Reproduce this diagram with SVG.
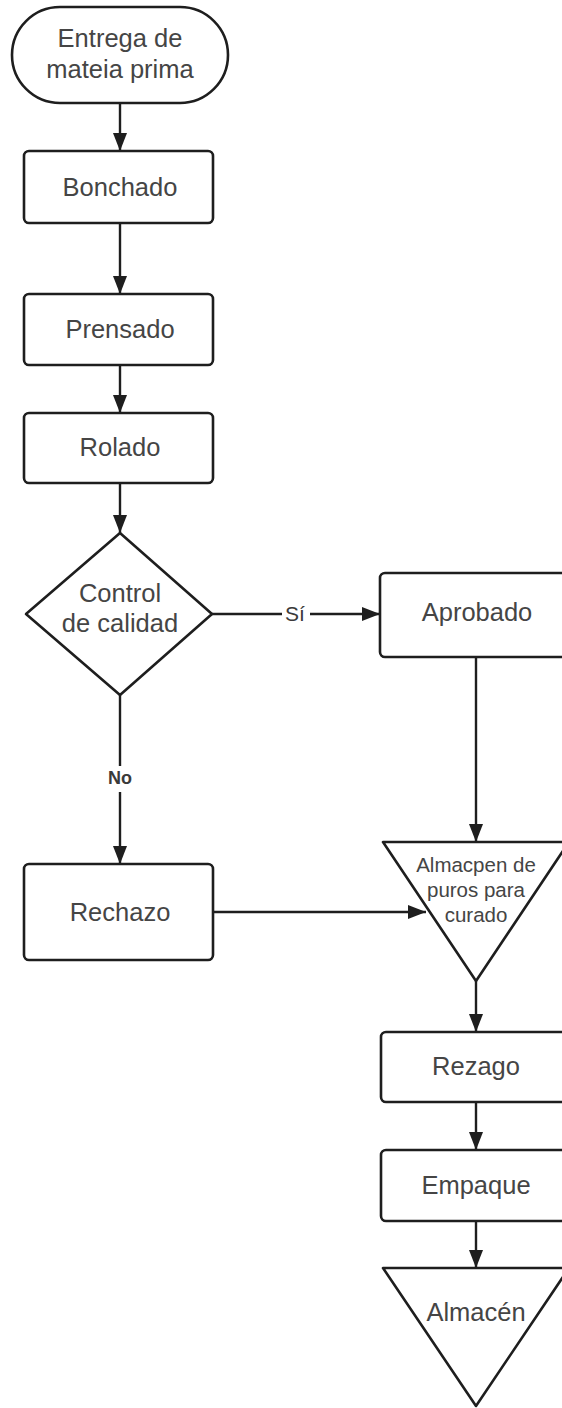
<svg xmlns="http://www.w3.org/2000/svg" width="562" height="1408" viewBox="0 0 562 1408">
<defs>
<marker id="arr" markerUnits="userSpaceOnUse" markerWidth="20" markerHeight="16" refX="18" refY="8" orient="auto">
<path d="M0,1 L18,8 L0,15 Z" fill="#1e1e1e"/>
</marker>
<style>
.sh{fill:#ffffff;stroke:#1e1e1e;stroke-width:2.6;stroke-linejoin:round}
.t{font-family:"Liberation Sans",Arial,sans-serif;font-size:25.5px;fill:#454545;text-anchor:middle}
.ts{font-family:"Liberation Sans",Arial,sans-serif;font-size:20.5px;fill:#454545;text-anchor:middle}
.lb{font-family:"Liberation Sans",Arial,sans-serif;fill:#3a3a3a;text-anchor:middle}
.c{fill:none;stroke:#1e1e1e;stroke-width:2.4}
</style>
</defs>
<rect width="562" height="1408" fill="#ffffff"/>
<g id="connectors">
<path class="c" d="M120,103 L120,151" marker-end="url(#arr)"/>
<path class="c" d="M120,223 L120,294" marker-end="url(#arr)"/>
<path class="c" d="M120,365 L120,413" marker-end="url(#arr)"/>
<path class="c" d="M120,483 L120,533" marker-end="url(#arr)"/>
<path class="c" d="M212,614 L380,614" marker-end="url(#arr)"/>
<rect x="282" y="600" width="28" height="26" fill="#ffffff"/>
<text class="lb" x="295" y="621" font-size="21">Sí</text>
<path class="c" d="M120,695 L120,864" marker-end="url(#arr)"/>
<rect x="102" y="766" width="36" height="26" fill="#ffffff"/>
<text class="lb" x="120" y="784" font-size="18" font-weight="bold">No</text>
<path class="c" d="M476,657 L476,842" marker-end="url(#arr)"/>
<path class="c" d="M213,912 L426,912" marker-end="url(#arr)"/>
<path class="c" d="M476,981 L476,1032" marker-end="url(#arr)"/>
<path class="c" d="M476,1102 L476,1150" marker-end="url(#arr)"/>
<path class="c" d="M476,1221 L476,1268" marker-end="url(#arr)"/>
</g>
<g id="inicio">
<rect class="sh" x="12" y="7" width="216" height="96" rx="48" ry="48"/>
<text class="t" x="120" y="47">Entrega de</text>
<text class="t" x="120" y="78">mateia prima</text>
</g>
<g id="bonchado">
<rect class="sh" x="24" y="151" width="189" height="72" rx="5"/>
<text class="t" x="120" y="196">Bonchado</text>
</g>
<g id="prensado">
<rect class="sh" x="24" y="294" width="189" height="71" rx="5"/>
<text class="t" x="120" y="338">Prensado</text>
</g>
<g id="rolado">
<rect class="sh" x="24" y="413" width="189" height="70" rx="5"/>
<text class="t" x="120" y="456">Rolado</text>
</g>
<g id="control">
<path class="sh" d="M120,533 L212,614 L120,695 L26,614 Z"/>
<text class="t" x="120" y="602">Control</text>
<text class="t" x="120" y="632">de calidad</text>
</g>
<g id="aprobado">
<rect class="sh" x="380" y="573" width="194" height="84" rx="5"/>
<text class="t" x="477" y="621">Aprobado</text>
</g>
<g id="rechazo">
<rect class="sh" x="24" y="864" width="189" height="96" rx="5"/>
<text class="t" x="120" y="921">Rechazo</text>
</g>
<g id="almacen-curado">
<path class="sh" d="M383,842 L569,842 L476,981 Z"/>
<text class="ts" x="476" y="872">Almacpen de</text>
<text class="ts" x="476" y="897">puros para</text>
<text class="ts" x="476" y="922">curado</text>
</g>
<g id="rezago">
<rect class="sh" x="381" y="1032" width="194" height="70" rx="5"/>
<text class="t" x="476" y="1075">Rezago</text>
</g>
<g id="empaque">
<rect class="sh" x="381" y="1150" width="194" height="71" rx="5"/>
<text class="t" x="476" y="1194">Empaque</text>
</g>
<g id="almacen">
<path class="sh" d="M383,1268 L569,1268 L476,1406 Z"/>
<text class="t" x="476" y="1321">Almacén</text>
</g>
</svg>
